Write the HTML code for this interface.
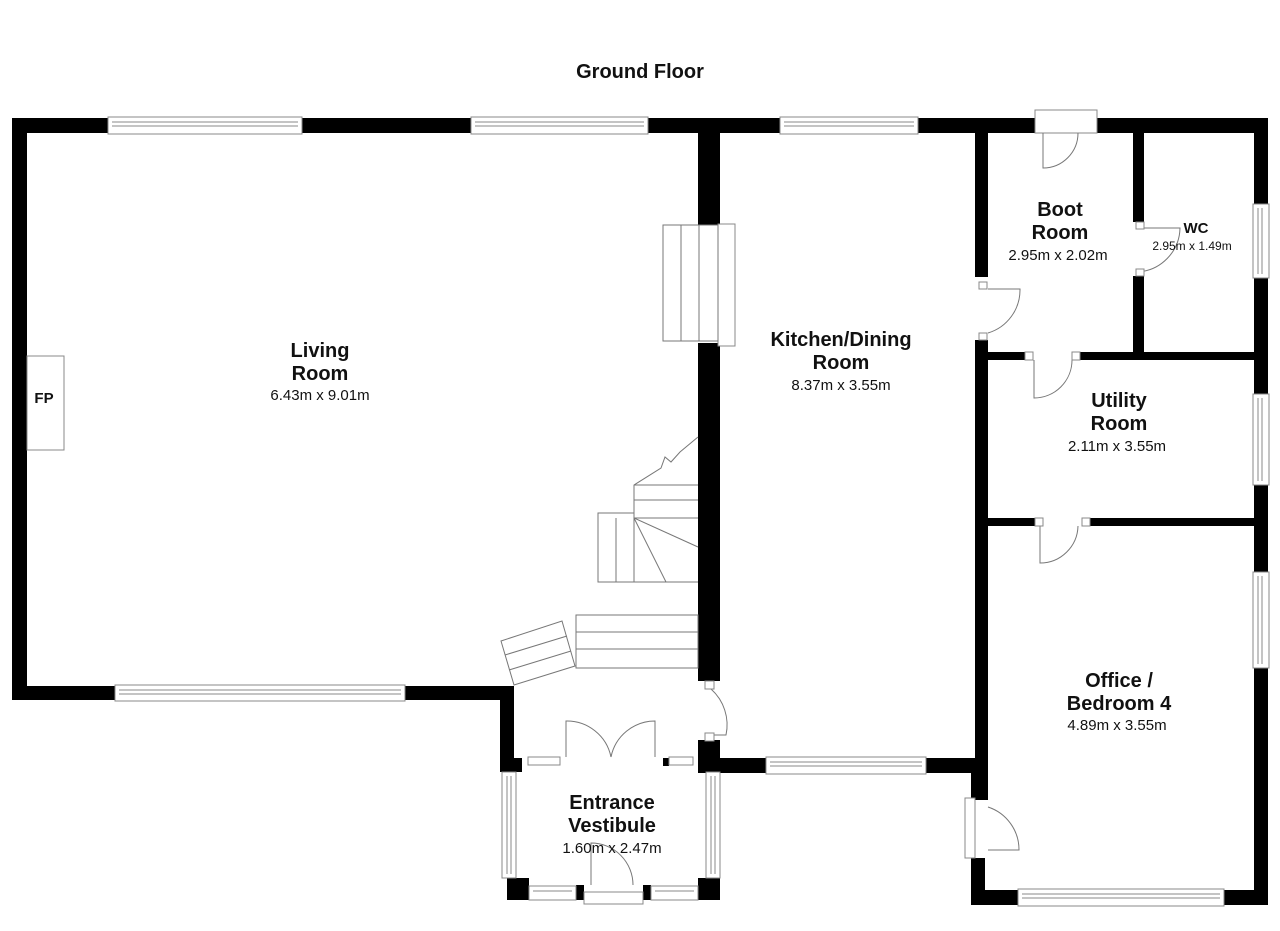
<!DOCTYPE html>
<html><head><meta charset="utf-8"><style>
html,body{margin:0;padding:0;background:#fff;}
svg{display:block;}
text{font-family:"Liberation Sans",Arial,sans-serif;fill:#111;}
.b{font-weight:bold;font-size:20px;}
.s{font-size:15px;}
.t{fill:none;stroke:#777;stroke-width:1;}
.w{fill:#fff;stroke:#888;stroke-width:1;}
</style></head><body>
<svg width="1280" height="931" viewBox="0 0 1280 931" xmlns="http://www.w3.org/2000/svg">
<rect width="1280" height="931" fill="#fff"/>
<text x="640" y="78" text-anchor="middle" class="b" style="font-size:20px">Ground Floor</text>

<g fill="#000">
<rect x="12" y="118" width="1256" height="15"/>
<rect x="12" y="118" width="15" height="582"/>
<rect x="12" y="686" width="500" height="14"/>
<rect x="698" y="118" width="22" height="107"/>
<rect x="698" y="343" width="22" height="338"/>
<rect x="698" y="740" width="22" height="33"/>
<rect x="698" y="758" width="290" height="15"/>
<rect x="975" y="118" width="13" height="159"/>
<rect x="975" y="340" width="13" height="433"/>
<rect x="971" y="758" width="17" height="42"/>
<rect x="971" y="858" width="14" height="47"/>
<rect x="971" y="890" width="297" height="15"/>
<rect x="1254" y="118" width="14" height="787"/>
<rect x="1133" y="133" width="11" height="89"/>
<rect x="1133" y="276" width="11" height="80"/>
<rect x="988" y="352" width="37" height="8"/>
<rect x="1080" y="352" width="174" height="8"/>
<rect x="988" y="518" width="47" height="8"/>
<rect x="1090" y="518" width="164" height="8"/>
<rect x="500" y="686" width="14" height="84"/>
<rect x="500" y="758" width="22" height="14"/>
<rect x="698" y="758" width="22" height="14"/>
<rect x="507" y="878" width="22" height="22"/>
<rect x="698" y="878" width="22" height="22"/>
<rect x="576" y="885" width="8" height="15"/>
<rect x="643" y="885" width="8" height="15"/>
<rect x="663" y="758" width="6" height="8"/>
</g>

<g class="w">
<rect x="108" y="117" width="194" height="17"/><line x1="112" y1="122" x2="298" y2="122"/><line x1="112" y1="126" x2="298" y2="126"/>
<rect x="471" y="117" width="177" height="17"/><line x1="475" y1="122" x2="644" y2="122"/><line x1="475" y1="126" x2="644" y2="126"/>
<rect x="780" y="117" width="138" height="17"/><line x1="784" y1="122" x2="914" y2="122"/><line x1="784" y1="126" x2="914" y2="126"/>
<rect x="1253" y="204" width="16" height="74"/><line x1="1258" y1="208" x2="1258" y2="274"/><line x1="1262" y1="208" x2="1262" y2="274"/>
<rect x="1253" y="394" width="16" height="91"/><line x1="1258" y1="398" x2="1258" y2="481"/><line x1="1262" y1="398" x2="1262" y2="481"/>
<rect x="1253" y="572" width="16" height="96"/><line x1="1258" y1="576" x2="1258" y2="664"/><line x1="1262" y1="576" x2="1262" y2="664"/>
<rect x="115" y="685" width="290" height="16"/><line x1="119" y1="690" x2="401" y2="690"/><line x1="119" y1="694" x2="401" y2="694"/>
<rect x="766" y="757" width="160" height="17"/><line x1="770" y1="762" x2="922" y2="762"/><line x1="770" y1="766" x2="922" y2="766"/>
<rect x="1018" y="889" width="206" height="17"/><line x1="1022" y1="894" x2="1220" y2="894"/><line x1="1022" y1="898" x2="1220" y2="898"/>
<rect x="502" y="772" width="14" height="106"/><line x1="507" y1="776" x2="507" y2="874"/><line x1="511" y1="776" x2="511" y2="874"/>
<rect x="706" y="772" width="14" height="106"/><line x1="711" y1="776" x2="711" y2="874"/><line x1="715" y1="776" x2="715" y2="874"/>
<rect x="529" y="886" width="47" height="14"/><line x1="533" y1="891" x2="572" y2="891"/>
<rect x="651" y="886" width="47" height="14"/><line x1="655" y1="891" x2="694" y2="891"/>
<rect x="528" y="757" width="32" height="8"/>
<rect x="669" y="757" width="24" height="8"/>
<rect x="1035" y="110" width="62" height="23"/>
<rect x="965" y="798" width="10" height="60"/>
<rect x="584" y="892" width="59" height="12"/>
<rect x="27" y="356" width="37" height="94"/>
<rect x="718" y="224" width="17" height="122"/>
</g>

<g class="t">
<path d="M1043 133 V168 A35 35 0 0 0 1078 133"/>
<path d="M988 333 A45 45 0 0 0 1020 289 L988 289"/>
<path d="M1137 272 A45 45 0 0 0 1180 228 L1137 228"/>
<path d="M1034 360 V398 A38 38 0 0 0 1072 360"/>
<path d="M1040 526 V563 A38 38 0 0 0 1078 526"/>
<path d="M988 807 A45 45 0 0 1 1019 850 L988 850"/>
<path d="M711 689 A48 48 0 0 1 726 735 L712 735"/>
<path d="M566 757 V721 A45 45 0 0 1 611 757"/>
<path d="M655 757 V721 A45 45 0 0 0 611 757"/>
<path d="M591 885 V843 A42 42 0 0 1 633 885"/>
</g>
<g fill="#fff" stroke="#888">
<rect x="979" y="282" width="8" height="7"/><rect x="979" y="333" width="8" height="7"/>
<rect x="1136" y="222" width="8" height="7"/><rect x="1136" y="269" width="8" height="7"/>
<rect x="1025" y="352" width="8" height="8"/><rect x="1072" y="352" width="8" height="8"/>
<rect x="1035" y="518" width="8" height="8"/><rect x="1082" y="518" width="8" height="8"/>
<rect x="705" y="681" width="9" height="8"/><rect x="705" y="733" width="9" height="8"/>
</g>

<g class="t">
<rect x="663" y="225" width="55" height="116"/>
<line x1="681" y1="225" x2="681" y2="341"/><line x1="699" y1="225" x2="699" y2="341"/>
<polyline points="698,437 680,452 671,462 665,457 661,468 634,485 634,582"/>
<line x1="634" y1="485" x2="698" y2="485"/>
<line x1="634" y1="500" x2="698" y2="500"/>
<line x1="634" y1="518" x2="698" y2="518"/>
<rect x="598" y="513" width="36" height="69"/>
<line x1="616" y1="518" x2="616" y2="582"/>
<line x1="598" y1="582" x2="698" y2="582"/>
<line x1="634" y1="518" x2="698" y2="547"/>
<line x1="634" y1="518" x2="666" y2="582"/>
<rect x="576" y="615" width="122" height="53"/>
<line x1="576" y1="632" x2="698" y2="632"/><line x1="576" y1="649" x2="698" y2="649"/>
<polygon points="501,641 562,621 575,666 514,685"/>
<line x1="505" y1="655" x2="567" y2="636"/><line x1="509" y1="670" x2="571" y2="651"/>
</g>

<g text-anchor="middle">
<text x="320" y="357" class="b">Living</text>
<text x="320" y="380" class="b">Room</text>
<text x="320" y="400" class="s">6.43m x 9.01m</text>
<text x="44" y="403" class="b" style="font-size:15px">FP</text>
<text x="841" y="346" class="b">Kitchen/Dining</text>
<text x="841" y="369" class="b">Room</text>
<text x="841" y="390" class="s">8.37m x 3.55m</text>
<text x="1060" y="216" class="b">Boot</text>
<text x="1060" y="239" class="b">Room</text>
<text x="1058" y="260" class="s">2.95m x 2.02m</text>
<text x="1196" y="233" class="b" style="font-size:15px">WC</text>
<text x="1192" y="250" class="s" style="font-size:12px">2.95m x 1.49m</text>
<text x="1119" y="407" class="b">Utility</text>
<text x="1119" y="430" class="b">Room</text>
<text x="1117" y="451" class="s">2.11m x 3.55m</text>
<text x="1119" y="687" class="b">Office /</text>
<text x="1119" y="710" class="b">Bedroom 4</text>
<text x="1117" y="730" class="s">4.89m x 3.55m</text>
<text x="612" y="809" class="b">Entrance</text>
<text x="612" y="832" class="b">Vestibule</text>
<text x="612" y="853" class="s">1.60m x 2.47m</text>
</g>
</svg>
</body></html>
